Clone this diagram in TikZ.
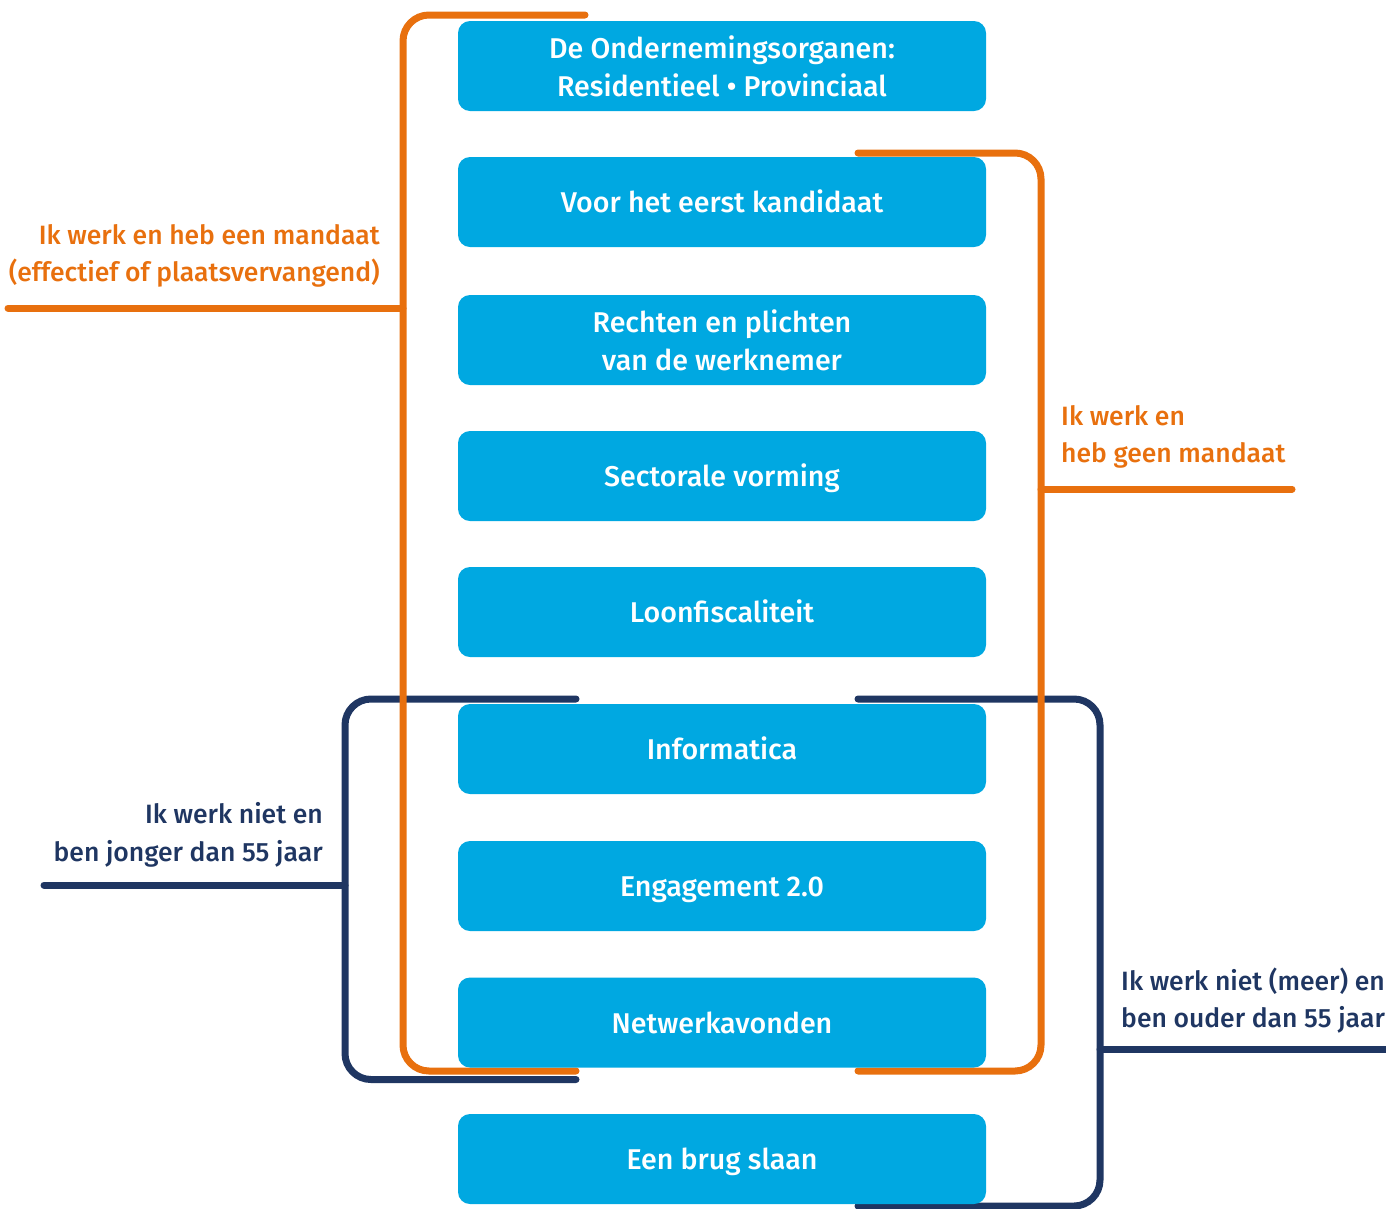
\documentclass[tikz,border=0pt]{standalone}
\usepackage{fontspec}
\setmainfont{Fira Sans Medium}
\definecolor{boxblue}{HTML}{00A8E1}
\definecolor{orng}{HTML}{E8700E}
\definecolor{navy}{HTML}{1F3662}
\begin{document}
\begin{tikzpicture}[x=1pt,y=-1pt,
  box/.style={fill=boxblue, rounded corners=12pt, minimum width=528pt, minimum height=90pt,
    text=white, align=center, font=\fontsize{28.6}{38}\selectfont, inner sep=0pt},
  single/.style={text height=21pt, text depth=0pt},
  obr/.style={draw=orng, line width=7pt, line cap=round, rounded corners=26pt},
  nbr/.style={draw=navy, line width=7pt, line cap=round, rounded corners=26pt},
  olab/.style={text=orng, font=\fontsize{26.5}{37.5}\selectfont, inner sep=0pt},
  nlab/.style={text=navy, font=\fontsize{26.5}{37.5}\selectfont, inner sep=0pt},
]
\useasboundingbox (0,0) rectangle (1386,1208);
\clip (0,0) rectangle (1386,1208);
% navy brackets
\draw[nbr] (576,699) -- (345,699) -- (345,1079.5) -- (576,1079.5);
\draw[nbr] (858,699) -- (1100,699) -- (1100,1206) -- (858,1206);
\draw[nbr] (44,885) -- (345,885);
\draw[nbr] (1100,1049) -- (1420,1049);
% orange brackets
\draw[obr] (585,15) -- (403,15) -- (403,1071) -- (576,1071);
\draw[obr] (858,153) -- (1041,153) -- (1041,1071) -- (858,1071);
\draw[obr] (8,308) -- (403,308);
\draw[obr] (1041,489) -- (1292,489);
% boxes
\node[box] (b1) at (722,66) {De Ondernemingsorganen:\\Residentieel • Provinciaal};
\node[box, single] (b2) at (722,202) {Voor het eerst kandidaat};
\node[box] (b3) at (722,340) {Rechten en plichten\\van de werknemer};
\node[box, single] (b4) at (722,476) {Sectorale vorming};
\node[box, single] (b5) at (722,612) {Loonfiscaliteit};
\node[box, single] (b6) at (722,749) {Informatica};
\node[box, single] (b7) at (722,886) {Engagement 2.0};
\node[box, single] (b8) at (722,1022.5) {Netwerkavonden};
\node[box, single] (b9) at (722,1159) {Een brug slaan};
% labels
\node[olab, align=right, anchor=east] (l1) at (380,256) {Ik werk en heb een mandaat\\(effectief of plaatsvervangend)};
\node[olab, align=left, anchor=west] (l2) at (1061,437) {Ik werk en\\heb geen mandaat};
\node[nlab, align=right, anchor=east] (l3) at (323,835) {Ik werk niet en\\ben jonger dan 55 jaar};
\node[nlab, align=left, anchor=west] (l4) at (1121,1000.5) {Ik werk niet (meer) en\\ben ouder dan 55 jaar};
\end{tikzpicture}
\end{document}
